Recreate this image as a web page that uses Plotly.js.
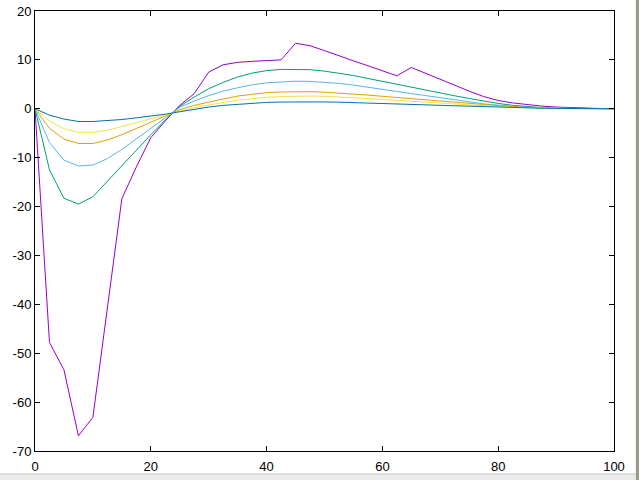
<!DOCTYPE html>
<html>
<head>
<meta charset="utf-8">
<script src="https://cdn.plot.ly/plotly-3.0.1.min.js"></script>
<style>html,body{margin:0;padding:0;background:#fff;}#chart{width:639px;height:480px;}</style>
</head>
<body>
<div id="chart"></div>
<script>
const xValues = [0,2.5,5,7.5,10,12.5,15,17.5,20,22.5,25,27.5,30,32.5,35,37.5,40,42.5,45,47.5,50,52.5,55,57.5,60,62.5,65,67.5,70,72.5,75,77.5,80,82.5,85,87.5,90,92.5,95,97.5,100];

const purple = [0,-47.8,-53.4,-66.9,-63.1,-41,-18.4,-11.9,-5.9,-2.5,0.7,3.1,7.5,9.0,9.5,9.7,9.8,10.0,13.4,12.9,11.9,10.8,9.8,8.8,7.8,6.75,8.45,7.2,6.0,4.85,3.6,2.5,1.7,1.2,0.85,0.55,0.35,0.22,0.13,0.06,0];
const green = [0,-12.5,-18.3,-19.5,-18.0,-14.8,-11.6,-8.5,-5.3,-2.3,0.5,2.4,4.1,5.4,6.5,7.3,7.8,8.05,8.1,8.0,7.7,7.3,6.8,6.2,5.6,5.0,4.3,3.75,3.2,2.65,2.1,1.55,1.1,0.7,0.4,0.25,0.15,0.08,0.04,0.02,0];
const lightBlue = [0,-6.9,-10.5,-11.7,-11.5,-10.2,-8.3,-6.2,-4.0,-1.85,0.3,1.6,2.7,3.6,4.3,4.9,5.3,5.55,5.65,5.6,5.45,5.2,4.85,4.45,4.0,3.6,3.1,2.7,2.25,1.8,1.35,1.0,0.75,0.5,0.3,0.2,0.1,0.06,0.03,0.01,0];
const orange = [0,-4.0,-6.2,-7.1,-7.1,-6.4,-5.3,-4.0,-2.75,-1.45,-0.2,0.7,1.4,2.0,2.6,3.0,3.3,3.45,3.5,3.5,3.4,3.25,3.05,2.8,2.55,2.3,2.05,1.8,1.5,1.25,1.0,0.75,0.55,0.4,0.25,0.15,0.1,0.05,0.03,0.01,0];
const yellow = [0,-2.5,-4.1,-4.8,-4.8,-4.4,-3.6,-2.8,-2.0,-1.25,-0.5,0.2,0.8,1.3,1.75,2.1,2.35,2.5,2.6,2.6,2.55,2.45,2.3,2.1,1.9,1.7,1.5,1.3,1.1,0.9,0.75,0.6,0.45,0.3,0.2,0.12,0.07,0.04,0.02,0.01,0];
const darkBlue = [0,-1.3,-2.1,-2.6,-2.6,-2.45,-2.2,-1.85,-1.5,-1.1,-0.6,-0.1,0.35,0.7,0.95,1.15,1.3,1.38,1.42,1.42,1.4,1.35,1.28,1.2,1.1,1.0,0.9,0.8,0.7,0.6,0.5,0.4,0.32,0.25,0.18,0.12,0.08,0.05,0.03,0.01,0];

const xTicks = [0,20,40,60,80,100];
const yTicks = [-70,-60,-50,-40,-30,-20,-10,0,10,20];

const series = [
  {y: purple, color: '#9400d3'},
  {y: green, color: '#009e73'},
  {y: lightBlue, color: '#56b4e9'},
  {y: orange, color: '#e69f00'},
  {y: yellow, color: '#f0e442'},
  {y: darkBlue, color: '#0072b2'}
];

const traces = series.map(s => ({
  x: xValues, y: s.y, type: 'scatter', mode: 'lines',
  line: {color: s.color, width: 1}, hoverinfo: 'skip', showlegend: false
}));

const axisCommon = {
  showgrid: false, zeroline: false, showline: true, mirror: 'ticks',
  linecolor: '#000', linewidth: 1, ticks: 'inside', ticklen: 5,
  tickcolor: '#000', tickwidth: 1,
  tickfont: {family: 'Liberation Sans, Arial, sans-serif', size: 13, color: '#000'}
};

const layout = {
  width: 639, height: 480,
  margin: {l: 35, r: 25, t: 11, b: 29, pad: 0},
  paper_bgcolor: '#fff', plot_bgcolor: '#fff',
  showlegend: false,
  xaxis: Object.assign({}, axisCommon, {range: [0, 100], tickmode: 'array', tickvals: xTicks, ticktext: xTicks.map(String), ticklabelstandoff: 3}),
  yaxis: Object.assign({}, axisCommon, {range: [-70, 20], tickmode: 'array', tickvals: yTicks, ticktext: yTicks.map(String)}),
  shapes: [
    {type: 'rect', xref: 'paper', yref: 'paper', x0: -0.1, x1: 1.1, y0: -0.0667, y1: -0.052, fillcolor: '#ececec', line: {width: 0}, layer: 'above'},
    {type: 'line', xref: 'paper', yref: 'paper', x0: -0.1, x1: 1.1, y0: -0.052, y1: -0.052, line: {color: '#c8c8c8', width: 1}, layer: 'above'},
    {type: 'rect', xref: 'paper', yref: 'paper', x0: 1.0378, x1: 1.045, y0: -0.1, y1: 1.1, fillcolor: '#9a9a90', line: {width: 0}, layer: 'above'}
  ]
};

Plotly.newPlot('chart', traces, layout, {displayModeBar: false, staticPlot: true});
</script>
</body>
</html>
